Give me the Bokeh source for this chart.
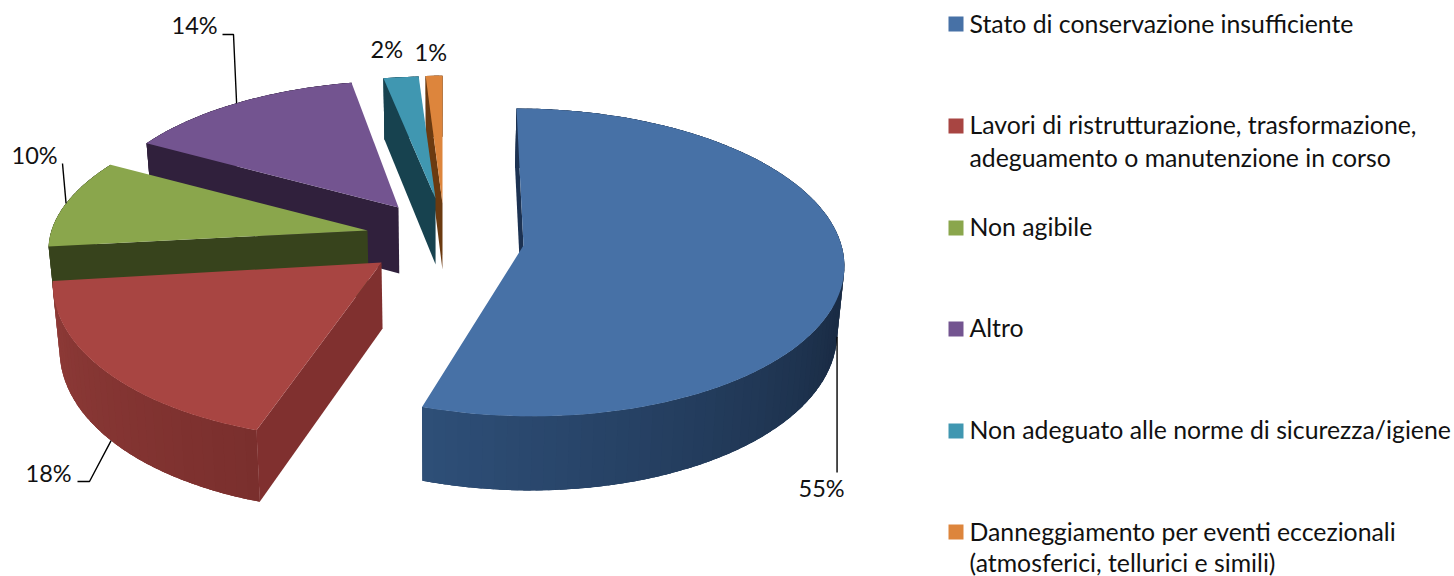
import math
from bokeh.plotting import figure
from bokeh.models import ColumnDataSource, Range1d
from bokeh.core.properties import value
from bokeh.embed import file_html
from bokeh.resources import INLINE

# ---- data ----
categories = [
    "Stato di conservazione insufficiente",
    "Lavori di ristrutturazione, trasformazione,\nadeguamento o manutenzione in corso",
    "Non agibile",
    "Altro",
    "Non adeguato alle norme di sicurezza/igiene",
    "Danneggiamento per eventi eccezionali\n(atmosferici, tellurici e simili)",
]
shares = [55.0, 18.2, 9.9, 13.9, 2.0, 1.0]
share_labels = ["55%", "18%", "10%", "14%", "2%", "1%"]

# ---- styles ----
top_colors = ["#4771A6", "#A84542", "#8AA64C", "#735490", "#4097B1", "#DD853C"]
wall_from = ["#1A2C45", "#7A2F2D", "#37431C", "#30203C", "#17424F", "#6B3A10"]
wall_to = ["#2E4F78", "#8F3B38", "#37431C", "#30203C", "#17424F", "#6B3A10"]
face_colors = ["#1C3252", "#80302F", "#37431C", "#30203C", "#17424F", "#6B3A10"]
wall_ramp_start = [110, None, None, None, None, None]

# ---- layout: projection of each exploded slice (apex x, apex y, ax, ay, skew, perspective) ----
projection = [
    (523, 245, 318, 152, 7.8, 0.11),
    (381, 262, 326.2, 163, -15.5, 0.08),
    (367, 230, 316, 140, -18.6, 0.08),
    (398, 207, 303.3, 137, -6.3, 0.08),
    (435, 198, 305, 132, -1, 0.08),
    (442, 203, 290, 138, 0, 0.08),
]
DEPTH = 66
BOTTOM_SCALE = 0.982
BOTTOM_CX = 440
draw_order = [5, 4, 3, 2, 1, 0]

FONT = "Lato"
LEGEND_SIZE = "24.8px"
LABEL_SIZE = "23.5px"
TEXT_SHIFT = 9
WIDTH, HEIGHT = 1454, 576
legend_x = 948
legend_box = 15
legend_box_bottom = [31, 133, 235, 336, 438, 539]
legend_text_x = 969
legend_baselines = [32, 133, 235, 336, 438, 540]
legend_line_gaps = [33, 33, 33, 33, 33, 31]
label_pos = [(798, 496), (25, 481), (11, 163), (171, 33), (370, 57), (414, 60)]


def project(i, theta, bottom=False, r=1.0):
    cx, cy, ax, ay, sk, persp = projection[i]
    t = math.radians(theta)
    X, Y = r * math.sin(t), -r * math.cos(t)
    w = 1 / (1 - persp * Y)
    sx = cx + (ax * X + sk * Y) * w
    sy = cy + ay * Y * w
    if bottom:
        sy += DEPTH * w
        sx = BOTTOM_CX + (sx - BOTTOM_CX) * BOTTOM_SCALE
    return sx, sy


def mix(c1, c2, t):
    a = [int(c1[k:k + 2], 16) for k in (1, 3, 5)]
    b = [int(c2[k:k + 2], 16) for k in (1, 3, 5)]
    return "#%02x%02x%02x" % tuple(round(u + (v - u) * t) for u, v in zip(a, b))


total = sum(shares)
edges = [0.0]
for s in shares:
    edges.append(edges[-1] + 360 * s / total)

xs, ys, cols = [], [], []


def add(pts, c):
    xs.append([q[0] for q in pts])
    ys.append([q[1] for q in pts])
    cols.append(c)


for i in draw_order:
    a0, a1 = edges[i], edges[i + 1]
    n = max(2, int((a1 - a0) / 2))
    angles = [a0 + (a1 - a0) * k / n for k in range(n + 1)]
    ramp0 = wall_ramp_start[i] if wall_ramp_start[i] is not None else a0
    # outer wall: a solid underlay, then shading strips that overlap it
    add([project(i, a) for a in angles] + [project(i, a, True) for a in reversed(angles)],
        mix(wall_from[i], wall_to[i], 0.5))
    for k in range(n):
        u, v = angles[k], angles[k + 1]
        t = max(0.0, min(1.0, ((u + v) / 2 - ramp0) / (a1 - ramp0)))
        w2 = min(a1, v + (v - u) * 0.6)
        add([project(i, u), project(i, w2), project(i, w2, True), project(i, u, True)],
            mix(wall_from[i], wall_to[i], t))
    # radial face at the slice's starting angle
    add([project(i, a0), project(i, a0, False, 0), project(i, a0, True, 0), project(i, a0, True)],
        face_colors[i])
    # top
    add([project(i, a, False) for a in angles] + [project(i, a0, False, 0)], top_colors[i])

p = figure(width=WIDTH, height=HEIGHT, output_backend="svg", toolbar_location=None,
           x_range=Range1d(0, WIDTH), y_range=Range1d(HEIGHT, 0), min_border=0)
p.axis.visible = False
p.grid.visible = False
p.outline_line_color = None
p.background_fill_color = "white"

src = ColumnDataSource(dict(xs=xs, ys=ys, c=cols))
p.patches("xs", "ys", source=src, fill_color="c", line_color=None)

# leader lines, anchored on each slice's mid angle
mid = [(edges[i] + edges[i + 1]) / 2 for i in range(len(shares))]
LW = 1.4
bx, by = project(0, mid[0], True)
p.line([bx, bx], [by, 472], line_color="black", line_width=LW)
rx, ry = project(1, mid[1], True)
p.line([rx, 89, 77], [ry, 481, 481], line_color="black", line_width=LW)
gx, gy = project(2, mid[2])
p.line([gx, 62], [gy, 163], line_color="black", line_width=LW)
ux, uy = project(3, mid[3])
p.line([ux, 233, 222], [uy, 34, 34], line_color="black", line_width=LW)

# percentage labels
p.text([q[0] for q in label_pos], [q[1] - TEXT_SHIFT for q in label_pos], text=share_labels,
       text_font=value(FONT), text_font_size=value(LABEL_SIZE), text_color="#111111",
       text_baseline="alphabetic", text_align="left")

# legend
for i, cat in enumerate(categories):
    b = legend_baselines[i]
    p.quad(left=[legend_x], right=[legend_x + legend_box], top=[legend_box_bottom[i] - legend_box],
           bottom=[legend_box_bottom[i]], fill_color=top_colors[i], line_color=None)
    for j, line in enumerate(cat.split("\n")):
        p.text([legend_text_x], [b + j * legend_line_gaps[i] - TEXT_SHIFT], text=[line], text_font=value(FONT),
               text_font_size=value(LEGEND_SIZE), text_color="#111111",
               text_baseline="alphabetic", text_align="left")

open("out.html", "w").write(file_html(p, INLINE))
